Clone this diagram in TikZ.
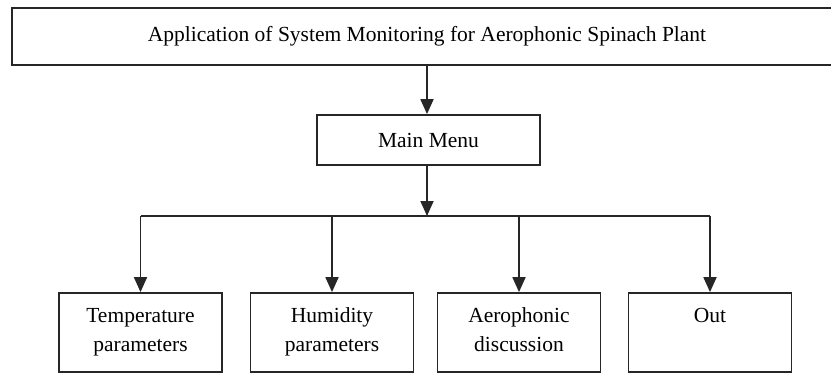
\documentclass[tikz,border=0pt]{standalone}
\usepackage{fontspec}
\setmainfont{Liberation Serif}
\usetikzlibrary{arrows.meta}
\tikzset{
  line/.style={draw=black!85, line width=1.8pt},
  arr/.style={line, -{Triangle[width=13pt,length=15pt]}},
  box/.style={line, rectangle, inner sep=0pt, fill=white},
  leaf/.style={box, minimum width=163pt, minimum height=79pt},
}
\newcommand{\leaftxt}[1]{\parbox[c][79pt][t]{160pt}{\centering\vspace*{10pt}\strut#1\strut}}
\begin{document}
\begin{tikzpicture}[x=1pt,y=-1pt]
\fontsize{21.5}{28.5}\selectfont
\useasboundingbox[fill=white] (0,0) rectangle (831,373);
\node[box, minimum width=830pt, minimum height=57pt] (title) at (427,36.5)
  {Application of System Monitoring for Aerophonic Spinach Plant};
\node[box, minimum width=223pt, minimum height=50pt] (menu) at (428.5,140) {Main Menu};
\coordinate (bus) at (427,216);
\node[leaf] (b1) at (140.5,332.5) {\leaftxt{Temperature\\parameters}};
\node[leaf] (b2) at (332,332.5) {\leaftxt{Humidity\\parameters}};
\node[leaf] (b3) at (519,332.5) {\leaftxt{Aerophonic\\discussion}};
\node[leaf] (b4) at (710,332.5) {\leaftxt{Out}};
\draw[arr] (title.south -| bus) -- (menu.north -| bus);
\draw[arr] (menu.south -| bus) -- (bus);
\draw[line] (b1.north |- bus) -- (b4.north |- bus);
\foreach \b in {b1,b2,b3,b4}{
  \draw[arr] (\b.north |- bus) -- (\b.north);
}
\end{tikzpicture}
\end{document}
